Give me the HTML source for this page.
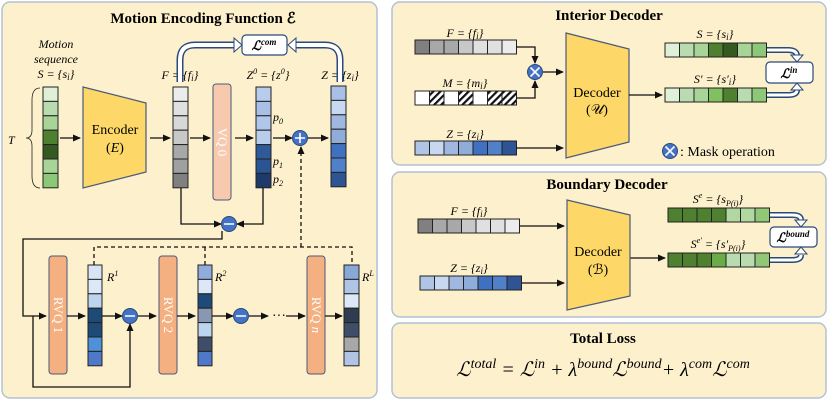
<!DOCTYPE html>
<html><head><meta charset="utf-8"><style>
html,body{margin:0;padding:0;background:#fff;}
svg{display:block;font-family:"Liberation Serif",serif;}
.t{font-weight:bold;font-size:15px;text-anchor:middle;}
.m{font-style:italic;font-size:12px;}
.c{stroke:#222;stroke-width:1;}
</style></head><body>
<svg width="831" height="403" viewBox="0 0 831 403" xmlns="http://www.w3.org/2000/svg">
<defs>
<marker id="a" markerWidth="8" markerHeight="8" refX="7" refY="4" orient="auto" markerUnits="userSpaceOnUse"><path d="M0,0.5 L8,4 L0,7.5z" fill="#111"/></marker>
<pattern id="h" width="5" height="5" patternUnits="userSpaceOnUse" patternTransform="rotate(45)"><rect width="5" height="5" fill="#fff"/><rect width="2.2" height="5" fill="#111"/></pattern>
</defs>
<rect x="2" y="2" width="375" height="396" rx="8" fill="#fdf0cc" stroke="#b4c0d4" stroke-width="1.5"/>
<rect x="392" y="2" width="434" height="163" rx="8" fill="#fdf0cc" stroke="#b4c0d4" stroke-width="1.5"/>
<rect x="392" y="172" width="434" height="145" rx="8" fill="#fdf0cc" stroke="#b4c0d4" stroke-width="1.5"/>
<rect x="392" y="323" width="434" height="75" rx="8" fill="#fdf0cc" stroke="#b4c0d4" stroke-width="1.5"/>
<text class="t" x="203" y="23">Motion Encoding Function ℰ</text>
<text class="t" x="609" y="20">Interior Decoder</text>
<text class="t" x="607" y="189">Boundary Decoder</text>
<text class="t" x="603" y="343">Total Loss</text>
<text x="603" y="376" font-size="20" font-style="italic" text-anchor="middle">ℒ<tspan dy="-8" font-size="14">total</tspan><tspan dy="8"> = ℒ</tspan><tspan dy="-8" font-size="14">in</tspan><tspan dy="8"> + λ</tspan><tspan dy="-8" font-size="14">bound</tspan><tspan dy="8">ℒ</tspan><tspan dy="-8" font-size="14">bound</tspan><tspan dy="8">+ λ</tspan><tspan dy="-8" font-size="14">com</tspan><tspan dy="8">ℒ</tspan><tspan dy="-8" font-size="14">com</tspan></text>

<text class="m" x="56" y="48" text-anchor="middle">Motion</text>
<text class="m" x="56" y="63" text-anchor="middle">sequence</text>
<text class="m" x="56" y="78" text-anchor="middle">S = {s<tspan font-size="9" dy="2">i</tspan><tspan dy="-2">}</tspan></text>
<text class="m" x="180" y="79" text-anchor="middle">F = {f<tspan font-size="9" dy="2">i</tspan><tspan dy="-2">}</tspan></text>
<text class="m" x="268" y="79" text-anchor="middle">Z<tspan font-size="8" dy="-5">0</tspan><tspan dy="5"> = {z</tspan><tspan font-size="8" dy="-5">0</tspan><tspan dy="5">}</tspan></text>
<text class="m" x="340" y="79" text-anchor="middle">Z = {z<tspan font-size="9" dy="2">i</tspan><tspan dy="-2">}</tspan></text>
<text class="m" x="8" y="144" font-size="14">T</text>
<path d="M40,88 Q32,88 32,100 L32,130 Q32,138 26,138 Q32,138 32,146 L32,176 Q32,188 40,188" fill="none" stroke="#222" stroke-width="0.8"/>

<g class="c">
<rect x="43" y="87" width="15" height="14.4" fill="#e0f0d8"/><rect x="43" y="101.4" width="15" height="14.4" fill="#b8dcb0"/><rect x="43" y="115.8" width="15" height="14.4" fill="#a8d498"/><rect x="43" y="130.2" width="15" height="14.4" fill="#4e8030"/><rect x="43" y="144.6" width="15" height="14.4" fill="#345a22"/><rect x="43" y="159" width="15" height="14.4" fill="#a8d498"/><rect x="43" y="173.4" width="15" height="14.4" fill="#8cc878"/>
<rect x="173" y="87" width="15" height="14.4" fill="#ececec"/><rect x="173" y="101.4" width="15" height="14.4" fill="#e0e0e0"/><rect x="173" y="115.8" width="15" height="14.4" fill="#d8d8d8"/><rect x="173" y="130.2" width="15" height="14.4" fill="#c8c8c8"/><rect x="173" y="144.6" width="15" height="14.4" fill="#a8a8a8"/><rect x="173" y="159" width="15" height="14.4" fill="#a0a0a0"/><rect x="173" y="173.4" width="15" height="14.4" fill="#808080"/>
<rect x="256" y="87" width="15" height="14.4" fill="#b8ccec"/><rect x="256" y="101.4" width="15" height="14.4" fill="#a8c0e6"/><rect x="256" y="115.8" width="15" height="14.4" fill="#b0c6ea"/><rect x="256" y="130.2" width="15" height="14.4" fill="#b8ccec"/><rect x="256" y="144.6" width="15" height="14.4" fill="#2e5a9a"/><rect x="256" y="159" width="15" height="14.4" fill="#2a5494"/><rect x="256" y="173.4" width="15" height="14.4" fill="#1e3a6a"/>
<rect x="331" y="86" width="15" height="14.4" fill="#a8c0e6"/><rect x="331" y="100.4" width="15" height="14.4" fill="#c8d8f0"/><rect x="331" y="114.8" width="15" height="14.4" fill="#a0b8e0"/><rect x="331" y="129.2" width="15" height="14.4" fill="#90acd8"/><rect x="331" y="143.6" width="15" height="14.4" fill="#4070c0"/><rect x="331" y="158" width="15" height="14.4" fill="#5080c8"/><rect x="331" y="172.4" width="15" height="14.4" fill="#2e5494"/>
<rect x="88" y="265" width="14" height="14.4" fill="#d8e4f4"/><rect x="88" y="279.4" width="14" height="14.4" fill="#dce8f6"/><rect x="88" y="293.8" width="14" height="14.4" fill="#bcd4ee"/><rect x="88" y="308.2" width="14" height="14.4" fill="#1e4a78"/><rect x="88" y="322.6" width="14" height="14.4" fill="#1e4a78"/><rect x="88" y="337" width="14" height="14.4" fill="#5090d8"/><rect x="88" y="351.4" width="14" height="14.4" fill="#5078c8"/>
<rect x="198" y="265" width="14" height="14.4" fill="#90acdc"/><rect x="198" y="279.4" width="14" height="14.4" fill="#dce8f6"/><rect x="198" y="293.8" width="14" height="14.4" fill="#1e4a78"/><rect x="198" y="308.2" width="14" height="14.4" fill="#8898b0"/><rect x="198" y="322.6" width="14" height="14.4" fill="#bcd4ee"/><rect x="198" y="337" width="14" height="14.4" fill="#3e4e68"/><rect x="198" y="351.4" width="14" height="14.4" fill="#5078c8"/>
<rect x="344" y="265" width="15" height="14.4" fill="#88a8d8"/><rect x="344" y="279.4" width="15" height="14.4" fill="#b0c4e6"/><rect x="344" y="293.8" width="15" height="14.4" fill="#dce8f6"/><rect x="344" y="308.2" width="15" height="14.4" fill="#303c50"/><rect x="344" y="322.6" width="15" height="14.4" fill="#3e4e68"/><rect x="344" y="337" width="15" height="14.4" fill="#a8a8a8"/><rect x="344" y="351.4" width="15" height="14.4" fill="#b0c4e6"/>
</g>
<text class="m" x="273" y="121">p<tspan font-size="8" dy="3">0</tspan></text>
<text class="m" x="273" y="165">p<tspan font-size="8" dy="3">1</tspan></text>
<text class="m" x="273" y="183">p<tspan font-size="8" dy="3">2</tspan></text>
<text class="m" x="107" y="281">R<tspan font-size="8" dy="-5">1</tspan></text>
<text class="m" x="215" y="281">R<tspan font-size="8" dy="-5">2</tspan></text>
<text class="m" x="362" y="281">R<tspan font-size="8" dy="-5">L</tspan></text>

<polygon points="83,87 146,103 146,172 83,188" fill="#fdd868" stroke="#4a5a7a" stroke-width="1.2"/>
<text x="115" y="134" font-size="14" text-anchor="middle">Encoder</text>
<text x="115" y="152" font-size="14" text-anchor="middle">(<tspan font-style="italic">E</tspan>)</text>
<rect x="213" y="84" width="18" height="116" rx="3" fill="#f7c9af" stroke="#4a5a7a"/>
<text transform="translate(222,142) rotate(90)" font-size="13" fill="#fff" text-anchor="middle" dy="4">VQ 0</text>
<rect x="49" y="256" width="18" height="118" rx="3" fill="#f4b080" stroke="#4a5a7a"/>
<text transform="translate(58,315) rotate(90)" font-size="13" fill="#fff" text-anchor="middle" dy="4">RVQ 1</text>
<rect x="159" y="256" width="18" height="118" rx="3" fill="#f4b080" stroke="#4a5a7a"/>
<text transform="translate(168,315) rotate(90)" font-size="13" fill="#fff" text-anchor="middle" dy="4">RVQ 2</text>
<rect x="307" y="256" width="18" height="118" rx="3" fill="#f4b080" stroke="#4a5a7a"/>
<text transform="translate(316,315) rotate(90)" font-size="13" fill="#fff" text-anchor="middle" dy="4">RVQ <tspan font-style="italic">n</tspan></text>

<g fill="none">
<path d="M180,82 L180,60 Q180,45 195,45 L236,45" stroke="#2a4a7a" stroke-width="7"/>
<path d="M180,82 L180,60 Q180,45 195,45 L236,45" stroke="#fff" stroke-width="4"/>
<path d="M340,82 L340,60 Q340,45 325,45 L294,45" stroke="#2a4a7a" stroke-width="7"/>
<path d="M340,82 L340,60 Q340,45 325,45 L294,45" stroke="#fff" stroke-width="4"/>
</g>
<path d="M234,38 L242,45 L234,52z M296,38 L288,45 L296,52z" fill="#fff" stroke="#2a4a7a"/>
<rect x="242" y="35" width="45" height="20" rx="4" fill="#fff" stroke="#2a4a7a" stroke-width="1.2"/>
<text x="264" y="50" font-size="13" text-anchor="middle" font-style="italic" font-weight="bold">ℒ<tspan font-size="9" dy="-5">com</tspan></text>

<g stroke="#111" stroke-width="1.3" fill="none">
<line x1="60" y1="138" x2="80" y2="138" marker-end="url(#a)"/>
<line x1="150" y1="138" x2="170" y2="138" marker-end="url(#a)"/>
<line x1="190" y1="138" x2="210" y2="138" marker-end="url(#a)"/>
<line x1="235" y1="138" x2="253" y2="138" marker-end="url(#a)"/>
<line x1="273" y1="138" x2="292" y2="138" marker-end="url(#a)"/>
<line x1="308" y1="138" x2="328" y2="138" marker-end="url(#a)"/>
<path d="M181,188 L181,224 L221,224" marker-end="url(#a)"/>
<path d="M263,188 L263,224 L237,224" marker-end="url(#a)"/>
<path d="M222,231 L222,239 L23,239 L23,316 L46,316" marker-end="url(#a)"/>
<path d="M33,316 L33,387 L130,387 L130,324" marker-end="url(#a)"/>
<line x1="67" y1="316" x2="85" y2="316" marker-end="url(#a)"/>
<line x1="102" y1="316" x2="122" y2="316" marker-end="url(#a)"/>
<line x1="138" y1="316" x2="156" y2="316" marker-end="url(#a)"/>
<line x1="177" y1="316" x2="195" y2="316" marker-end="url(#a)"/>
<line x1="212" y1="316" x2="233" y2="316" marker-end="url(#a)"/>
<line x1="249" y1="316" x2="268" y2="316" marker-end="url(#a)"/>
<line x1="286" y1="316" x2="305" y2="316" marker-end="url(#a)"/>
<line x1="325" y1="316" x2="342" y2="316" marker-end="url(#a)"/>
<g stroke-dasharray="4,3">
<path d="M94,265 L94,247 L352,247 L352,265 M205,247 L205,265"/>
<path d="M301,247 L301,147" marker-end="url(#a)"/>
</g>
</g>
<text x="279" y="320" font-size="14" text-anchor="middle">···</text>
<g stroke="#2a4a7a" stroke-width="1">
<circle cx="300" cy="138" r="7.5" fill="#4472c4"/>
<circle cx="229" cy="224" r="7.5" fill="#4472c4"/>
<circle cx="130" cy="316" r="7.5" fill="#4472c4"/>
<circle cx="241" cy="316" r="7.5" fill="#4472c4"/>
</g>
<g stroke="#fff" stroke-width="1.6">
<path d="M295,138 H305 M300,133 V143"/>
<path d="M224,224 H234 M125,316 H135 M236,316 H246"/>
</g>

<text class="m" x="465" y="37" text-anchor="middle">F = {f<tspan font-size="9" dy="2">i</tspan><tspan dy="-2">}</tspan></text>
<text class="m" x="465" y="87" text-anchor="middle">M = {m<tspan font-size="9" dy="2">i</tspan><tspan dy="-2">}</tspan></text>
<text class="m" x="465" y="138" text-anchor="middle">Z = {z<tspan font-size="9" dy="2">i</tspan><tspan dy="-2">}</tspan></text>
<g class="c">
<rect x="415" y="40" width="14.5" height="14" fill="#808080"/><rect x="429.5" y="40" width="14.5" height="14" fill="#a8a8a8"/><rect x="444" y="40" width="14.5" height="14" fill="#a8a8a8"/><rect x="458.5" y="40" width="14.5" height="14" fill="#c8c8c8"/><rect x="473" y="40" width="14.5" height="14" fill="#e0e0e0"/><rect x="487.5" y="40" width="14.5" height="14" fill="#e0e0e0"/><rect x="502" y="40" width="14.5" height="14" fill="#ececec"/>
<rect x="415" y="91" width="14.5" height="14" fill="#fff"/><rect x="429.5" y="91" width="14.5" height="14" fill="url(#h)"/><rect x="444" y="91" width="14.5" height="14" fill="#fff"/><rect x="458.5" y="91" width="14.5" height="14" fill="url(#h)"/><rect x="473" y="91" width="14.5" height="14" fill="#fff"/><rect x="487.5" y="91" width="14.5" height="14" fill="url(#h)"/><rect x="502" y="91" width="14.5" height="14" fill="url(#h)"/>
<rect x="415" y="141" width="14.5" height="14" fill="#b0c4e6"/><rect x="429.5" y="141" width="14.5" height="14" fill="#c8d8f0"/><rect x="444" y="141" width="14.5" height="14" fill="#a0b8e0"/><rect x="458.5" y="141" width="14.5" height="14" fill="#90acd8"/><rect x="473" y="141" width="14.5" height="14" fill="#4070c0"/><rect x="487.5" y="141" width="14.5" height="14" fill="#5080c8"/><rect x="502" y="141" width="14.5" height="14" fill="#2e5494"/>
<rect x="665" y="43" width="14.5" height="14" fill="#e0f0d8"/><rect x="679.5" y="43" width="14.5" height="14" fill="#b8dcb0"/><rect x="694" y="43" width="14.5" height="14" fill="#a8d498"/><rect x="708.5" y="43" width="14.5" height="14" fill="#4e8030"/><rect x="723" y="43" width="14.5" height="14" fill="#345a22"/><rect x="737.5" y="43" width="14.5" height="14" fill="#a8d498"/><rect x="752" y="43" width="14.5" height="14" fill="#8cc878"/>
<rect x="665" y="88" width="14.5" height="14" fill="#e0f0d8"/><rect x="679.5" y="88" width="14.5" height="14" fill="#b8dcb0"/><rect x="694" y="88" width="14.5" height="14" fill="#a8d498"/><rect x="708.5" y="88" width="14.5" height="14" fill="#80c060"/><rect x="723" y="88" width="14.5" height="14" fill="#4e8030"/><rect x="737.5" y="88" width="14.5" height="14" fill="#b8dcb0"/><rect x="752" y="88" width="14.5" height="14" fill="#8cc878"/>
</g>
<text class="m" x="715" y="38" text-anchor="middle">S = {s<tspan font-size="9" dy="2">i</tspan><tspan dy="-2">}</tspan></text>
<text class="m" x="715" y="83" text-anchor="middle">S′ = {s′<tspan font-size="9" dy="2">i</tspan><tspan dy="-2">}</tspan></text>
<polygon points="566,33 629,49 629,142 566,158" fill="#fdd868" stroke="#4a5a7a" stroke-width="1.2"/>
<text x="597" y="97" font-size="14" text-anchor="middle">Decoder</text>
<text x="597" y="114" font-size="14" text-anchor="middle">(𝒰)</text>
<g stroke="#111" stroke-width="1.3" fill="none">
<path d="M516,47 L535,47 L535,63" marker-end="url(#a)"/>
<path d="M516,98 L535,98 L535,81" marker-end="url(#a)"/>
<line x1="543" y1="72" x2="563" y2="72" marker-end="url(#a)"/>
<line x1="516" y1="148" x2="563" y2="148" marker-end="url(#a)"/>
<line x1="629" y1="95" x2="662" y2="95" marker-end="url(#a)"/>
<line x1="517" y1="226" x2="564" y2="226" marker-end="url(#a)"/>
<line x1="521" y1="283" x2="564" y2="283" marker-end="url(#a)"/>
<line x1="630" y1="258" x2="665" y2="258" marker-end="url(#a)"/>
</g>
<g stroke="#2a4a7a" stroke-width="1"><circle cx="535" cy="72" r="7.5" fill="#4472c4"/><circle cx="670" cy="151" r="7.5" fill="#4472c4"/></g>
<g stroke="#fff" stroke-width="1.6"><path d="M530.5,67.5 L539.5,76.5 M539.5,67.5 L530.5,76.5 M665.5,146.5 L674.5,155.5 M674.5,146.5 L665.5,155.5"/></g>
<text x="680" y="156" font-size="14">: Mask operation</text>
<g fill="none">
<path d="M767,50 L788,50 Q797,50 797,56 M767,95 L788,95 Q797,95 797,90" stroke="#2a4a7a" stroke-width="6"/>
<path d="M767,50 L788,50 Q797,50 797,56 M767,95 L788,95 Q797,95 797,90" stroke="#fff" stroke-width="3"/>
</g>
<path d="M791,55 L797,62 L803,55z M791,90 L797,83 L803,90z" fill="#fff" stroke="#2a4a7a"/>
<rect x="766" y="62" width="47" height="21" rx="4" fill="#fff" stroke="#2a4a7a" stroke-width="1.2"/>
<text x="789" y="78" font-size="13" text-anchor="middle" font-style="italic" font-weight="bold">ℒ<tspan font-size="9" dy="-5">in</tspan></text>

<text class="m" x="469" y="215" text-anchor="middle">F = {f<tspan font-size="9" dy="2">i</tspan><tspan dy="-2">}</tspan></text>
<text class="m" x="469" y="272" text-anchor="middle">Z = {z<tspan font-size="9" dy="2">i</tspan><tspan dy="-2">}</tspan></text>
<text class="m" x="718" y="203" text-anchor="middle">S<tspan font-size="8" dy="-5">e</tspan><tspan dy="5"> = {s</tspan><tspan font-size="8" dy="3">P(i)</tspan><tspan dy="-3">}</tspan></text>
<text class="m" x="718" y="248" text-anchor="middle">S<tspan font-size="8" dy="-5">e′</tspan><tspan dy="5"> = {s′</tspan><tspan font-size="8" dy="3">P(i)</tspan><tspan dy="-3">}</tspan></text>
<g class="c">
<rect x="418" y="219" width="14.5" height="14" fill="#808080"/><rect x="432.5" y="219" width="14.5" height="14" fill="#a8a8a8"/><rect x="447" y="219" width="14.5" height="14" fill="#a8a8a8"/><rect x="461.5" y="219" width="14.5" height="14" fill="#c8c8c8"/><rect x="476" y="219" width="14.5" height="14" fill="#e0e0e0"/><rect x="490.5" y="219" width="14.5" height="14" fill="#e0e0e0"/><rect x="505" y="219" width="14.5" height="14" fill="#ececec"/>
<rect x="420" y="276" width="14.5" height="14" fill="#b0c4e6"/><rect x="434.5" y="276" width="14.5" height="14" fill="#c8d8f0"/><rect x="449" y="276" width="14.5" height="14" fill="#a0b8e0"/><rect x="463.5" y="276" width="14.5" height="14" fill="#90acd8"/><rect x="478" y="276" width="14.5" height="14" fill="#4070c0"/><rect x="492.5" y="276" width="14.5" height="14" fill="#5080c8"/><rect x="507" y="276" width="14.5" height="14" fill="#2e5494"/>
<rect x="668" y="208" width="14.5" height="14" fill="#4e8030"/><rect x="682.5" y="208" width="14.5" height="14" fill="#4e8030"/><rect x="697" y="208" width="14.5" height="14" fill="#4e8030"/><rect x="711.5" y="208" width="14.5" height="14" fill="#4e8030"/><rect x="726" y="208" width="14.5" height="14" fill="#b0d8a0"/><rect x="740.5" y="208" width="14.5" height="14" fill="#b0d8a0"/><rect x="755" y="208" width="14.5" height="14" fill="#90c878"/>
<rect x="668" y="253" width="14.5" height="14" fill="#4e8030"/><rect x="682.5" y="253" width="14.5" height="14" fill="#4e8030"/><rect x="697" y="253" width="14.5" height="14" fill="#4e8030"/><rect x="711.5" y="253" width="14.5" height="14" fill="#6aac48"/><rect x="726" y="253" width="14.5" height="14" fill="#b8dcb0"/><rect x="740.5" y="253" width="14.5" height="14" fill="#b8dcb0"/><rect x="755" y="253" width="14.5" height="14" fill="#90c878"/>
</g>
<polygon points="567,200 630,215 630,296 567,310" fill="#fdd868" stroke="#4a5a7a" stroke-width="1.2"/>
<text x="598" y="256" font-size="14" text-anchor="middle">Decoder</text>
<text x="598" y="274" font-size="14" text-anchor="middle">(ℬ)</text>
<g fill="none">
<path d="M770,215 L792,215 Q801,215 801,220 M770,260 L792,260 Q801,260 801,255" stroke="#2a4a7a" stroke-width="6"/>
<path d="M770,215 L792,215 Q801,215 801,220 M770,260 L792,260 Q801,260 801,255" stroke="#fff" stroke-width="3"/>
</g>
<path d="M795,220 L801,227 L807,220z M795,254 L801,247 L807,254z" fill="#fff" stroke="#2a4a7a"/>
<rect x="770" y="227" width="47" height="20" rx="4" fill="#fff" stroke="#2a4a7a" stroke-width="1.2"/>
<text x="793" y="242" font-size="13" text-anchor="middle" font-style="italic" font-weight="bold">ℒ<tspan font-size="9" dy="-5">bound</tspan></text>
</svg>
</body></html>
